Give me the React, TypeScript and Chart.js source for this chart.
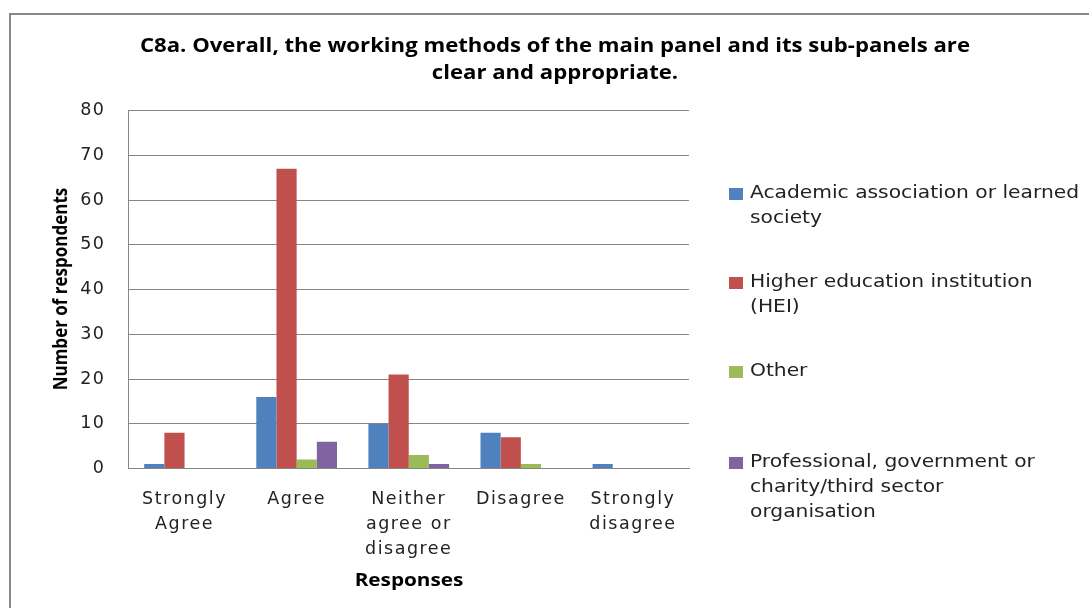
import React, { useEffect, useRef } from "react";
import { Chart, registerables } from "chart.js";

Chart.register(...registerables);

const categories: string[][] = [
  ["Strongly", "Agree"],
  ["Agree"],
  ["Neither", "agree or", "disagree"],
  ["Disagree"],
  ["Strongly", "disagree"],
];

const seriesNames: string[] = [
  "Academic association or learned society",
  "Higher education institution (HEI)",
  "Other",
  "Professional, government or charity/third sector organisation",
];

const legendLines: string[][] = [
  ["Academic association or learned", "society"],
  ["Higher education institution", "(HEI)"],
  ["Other"],
  ["Professional, government or", "charity/third sector", "organisation"],
];

const academic: number[] = [1, 16, 10, 8, 1];
const hei: number[] = [8, 67, 21, 7, 0];
const other: number[] = [0, 2, 3, 1, 0];
const professional: number[] = [0, 6, 1, 0, 0];

const yTicks: number[] = [0, 10, 20, 30, 40, 50, 60, 70, 80];

const titleLines: string[] = [
  "C8a. Overall, the working methods of the main panel and its sub-panels are",
  "clear and appropriate.",
];
const xTitle = "Responses";
const yTitle = "Number of respondents";

const colors = ["#4F81BD", "#C0504D", "#9BBB59", "#8064A2"];

const spacingPlugin = {
  id: "letterSpacing",
  beforeDraw(chart: any) {
    try {
      chart.ctx.letterSpacing = "1.5px";
    } catch (e) {}
  },
};

export default function App() {
  const ref = useRef<HTMLCanvasElement | null>(null);

  useEffect(() => {
    if (!ref.current) return;
    const seriesValues = [academic, hei, other, professional];
    const chart = new Chart(ref.current, {
      type: "bar",
      data: {
        labels: categories,
        datasets: seriesNames.map((name, i) => ({
          label: name,
          data: seriesValues[i],
          backgroundColor: colors[i],
          borderWidth: 0,
          categoryPercentage: 0.72,
          barPercentage: 1.0,
        })),
      },
      plugins: [spacingPlugin],
      options: {
        responsive: false,
        animation: false,
        events: [],
        layout: { padding: { top: 110.5, left: 20, right: 400, bottom: 0 } },
        plugins: {
          legend: { display: false },
          tooltip: { enabled: false },
          title: { display: false },
        },
        scales: {
          x: {
            grid: { display: false, drawTicks: false },
            border: { display: true, color: "#868686", width: 1 },
            ticks: {
              color: "#222",
              padding: 18,
              maxRotation: 0,
              autoSkip: false,
              font: { family: "'DejaVu Sans', sans-serif", size: 17.5, lineHeight: 25 / 17.5 },
            },
            afterFit: (scale: any) => {
              scale.height = 139.5;
            },
          },
          y: {
            min: 0,
            max: 80,
            afterBuildTicks: (scale: any) => {
              scale.ticks = yTicks.map((v) => ({ value: v }));
            },
            grid: { color: "#868686", lineWidth: 1, drawTicks: false },
            border: { display: true, color: "#868686", width: 1 },
            ticks: {
              color: "#222",
              padding: 23,
              font: { family: "'DejaVu Sans', sans-serif", size: 17.5 },
            },
            afterFit: (scale: any) => {
              scale.width = 108.5;
            },
          },
        },
      },
    } as any);
    return () => chart.destroy();
  }, []);

  const slotTops = [180, 269, 358, 449];
  const boldFont = "'Open Sans', 'DejaVu Sans', sans-serif";

  return (
    <div style={{ position: "fixed", left: 0, top: 0, width: 1089, height: 608, background: "#fff", overflow: "hidden" }}>
      <div
        style={{
          position: "absolute",
          left: 9,
          top: 13,
          width: 1200,
          height: 800,
          borderLeft: "2px solid #888",
          borderTop: "2px solid #888",
        }}
      />
      <canvas ref={ref} width={1089} height={608} style={{ position: "absolute", left: 0, top: 0, width: 1089, height: 608 }} />
      <div
        style={{
          position: "absolute",
          left: 0,
          top: 31.5,
          width: 1110,
          textAlign: "center",
          fontFamily: boldFont,
          fontWeight: "bold",
          fontSize: 19,
          lineHeight: "27px",
          color: "#000",
          transform: "scaleX(1.165)",
          transformOrigin: "555px 0",
          whiteSpace: "nowrap",
        }}
      >
        {titleLines.map((l, i) => (
          <div key={i}>{l}</div>
        ))}
      </div>
      <div
        style={{
          position: "absolute",
          left: 309,
          top: 567,
          width: 200,
          textAlign: "center",
          fontFamily: boldFont,
          fontWeight: "bold",
          fontSize: 17,
          lineHeight: "26px",
          color: "#000",
          transform: "scaleX(1.22)",
          transformOrigin: "100px 0",
        }}
      >
        {xTitle}
      </div>
      <div
        style={{
          position: "absolute",
          left: 60 - 150,
          top: 288.5 - 13,
          width: 300,
          height: 26,
          textAlign: "center",
          fontFamily: boldFont,
          fontWeight: "bold",
          fontSize: 17,
          lineHeight: "26px",
          color: "#000",
          transform: "rotate(-90deg) scaleY(1.15)",
          transformOrigin: "150px 13px",
          whiteSpace: "nowrap",
        }}
      >
        {yTitle}
      </div>
      {legendLines.map((lines, i) => (
        <div
          key={i}
          style={{
            position: "absolute",
            left: 729,
            top: slotTops[i],
            display: "flex",
            alignItems: "flex-start",
            fontFamily: "'DejaVu Sans', sans-serif",
            fontSize: 17,
            lineHeight: "25px",
            color: "#222",
            whiteSpace: "nowrap",
          }}
        >
          <div style={{ width: 14, height: 12, background: colors[i], marginTop: 8, marginRight: 7, flex: "none" }} />
          <div style={{ transform: "scaleX(1.19)", transformOrigin: "0 0" }}>
            {lines.map((l, j) => (
              <div key={j}>{l}</div>
            ))}
          </div>
        </div>
      ))}
    </div>
  );
}
